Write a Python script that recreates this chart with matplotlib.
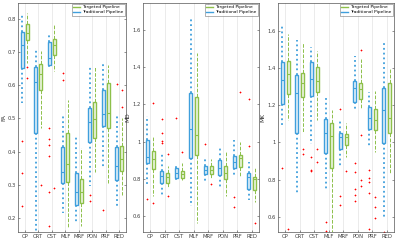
import matplotlib
matplotlib.use('Agg')
import matplotlib.pyplot as plt
from matplotlib.lines import Line2D

regions = ['CP', 'CRT', 'CST', 'MLF', 'MRF', 'PON', 'PRF', 'RED']

# five-number summaries per region: (whisker low, q1, median, q3, whisker high)
fa_trad = [(0.547, 0.652, 0.720, 0.761, 0.816), (0.160, 0.456, 0.611, 0.655, 0.708),
           (0.649, 0.661, 0.682, 0.731, 0.758), (0.215, 0.305, 0.338, 0.415, 0.515),
           (0.185, 0.240, 0.278, 0.335, 0.443), (0.297, 0.428, 0.488, 0.532, 0.660),
           (0.355, 0.477, 0.512, 0.587, 0.663), (0.230, 0.315, 0.358, 0.413, 0.515)]
fa_targ = [(0.667, 0.736, 0.756, 0.786, 0.818), (0.470, 0.587, 0.635, 0.664, 0.703),
           (0.642, 0.692, 0.720, 0.740, 0.786), (0.170, 0.308, 0.362, 0.455, 0.555),
           (0.175, 0.245, 0.280, 0.317, 0.410), (0.340, 0.440, 0.497, 0.550, 0.655),
           (0.305, 0.470, 0.518, 0.607, 0.660), (0.270, 0.343, 0.378, 0.417, 0.500)]
fa_trad_out = [[0.433, 0.335, 0.237], [], [0.471, 0.438, 0.421, 0.388, 0.280, 0.175],
               [0.637, 0.615], [], [0.270, 0.250], [0.223], [0.605]]
fa_targ_out = [[0.655, 0.621], [0.300], [0.292], [], [], [], [], [0.585, 0.535]]

md_trad = [(0.763, 0.887, 0.919, 1.009, 1.138), (0.713, 0.776, 0.817, 0.844, 0.932),
           (0.790, 0.803, 0.833, 0.856, 0.880), (0.654, 0.910, 1.068, 1.260, 1.668),
           (0.776, 0.826, 0.847, 0.869, 0.919), (0.749, 0.820, 0.856, 0.901, 0.978),
           (0.811, 0.856, 0.889, 0.924, 1.009), (0.686, 0.743, 0.811, 0.829, 0.892)]
md_targ = [(0.708, 0.853, 0.905, 0.951, 1.030), (0.749, 0.779, 0.808, 0.829, 0.871),
           (0.794, 0.803, 0.824, 0.844, 0.883), (0.564, 0.928, 1.035, 1.238, 1.478),
           (0.797, 0.826, 0.847, 0.869, 0.905), (0.709, 0.797, 0.829, 0.869, 0.946),
           (0.811, 0.862, 0.914, 0.928, 1.000), (0.673, 0.740, 0.797, 0.811, 0.856)]
md_trad_out = [[0.691], [1.123, 1.044, 1.005, 0.994], [1.128], [], [0.985], [],
               [0.704, 0.650], [1.228, 0.978]]
md_targ_out = [[1.205, 0.672], [0.932, 0.709], [0.946], [], [0.770], [], [1.266], [0.561]]

mk_trad = [(1.084, 1.206, 1.335, 1.430, 1.625), (0.729, 1.053, 1.263, 1.365, 1.553),
           (0.990, 1.250, 1.340, 1.430, 1.514), (0.740, 0.944, 1.052, 1.125, 1.245),
           (0.860, 0.967, 1.027, 1.052, 1.123), (1.168, 1.218, 1.294, 1.331, 1.464),
           (0.976, 1.070, 1.132, 1.191, 1.272), (0.586, 0.998, 1.173, 1.290, 1.532)]
mk_targ = [(1.120, 1.260, 1.370, 1.440, 1.582), (1.052, 1.245, 1.322, 1.374, 1.535),
           (1.120, 1.272, 1.331, 1.406, 1.492), (0.500, 0.863, 1.034, 1.107, 1.173),
           (0.923, 0.985, 1.030, 1.044, 1.105), (1.182, 1.231, 1.285, 1.320, 1.451),
           (0.946, 1.066, 1.123, 1.177, 1.277), (0.833, 1.052, 1.129, 1.317, 1.397)]
mk_trad_out = [[0.860], [], [0.922, 0.854, 0.845], [0.573, 0.525], [1.182, 0.711, 0.663],
               [0.887, 0.842, 0.752, 0.716, 0.684], [0.854, 0.806, 0.788, 0.729, 0.532], [0.520]]
mk_targ_out = [[0.532], [0.962, 0.940], [0.962, 0.896], [], [0.847],
               [1.496, 1.039, 0.800, 0.765], [0.708, 0.650, 0.591], []]

blue = '#3f9fdc'
green = '#8dc04a'


def make_stats(summary, outliers):
    stats = []
    for s, o in zip(summary, outliers):
        stats.append(dict(whislo=s[0], q1=s[1], med=s[2], q3=s[3], whishi=s[4], fliers=o))
    return stats


def draw_group(ax, summary, outliers, pos, col, ls, lw):
    ax.bxp(make_stats(summary, outliers), positions=pos, widths=0.22,
           patch_artist=True, showcaps=False,
           boxprops=dict(facecolor=col, edgecolor=col, linewidth=1.0),
           whiskerprops=dict(color=col, linestyle=ls, linewidth=lw),
           medianprops=dict(color=col, linewidth=0.8),
           flierprops=dict(marker='+', markeredgecolor='red', markersize=2.0,
                           markeredgewidth=0.5, linestyle='none'))


fig = plt.figure(figsize=(4.0, 2.44), dpi=100)
panels = [
    ([0.045, 0.049, 0.27, 0.939], 'FA', fa_trad, fa_trad_out, fa_targ, fa_targ_out,
     (0.158, 0.848), [0.2, 0.3, 0.4, 0.5, 0.6, 0.7, 0.8], ['0.2', '0.3', '0.4', '0.5', '0.6', '0.7', '0.8']),
    ([0.3575, 0.049, 0.29, 0.939], 'MD', md_trad, md_trad_out, md_targ, md_targ_out,
     (0.514, 1.745), [0.6, 0.8, 1.0, 1.2, 1.4, 1.6], ['0.6', '0.8', '1', '1.2', '1.4', '1.6']),
    ([0.695, 0.049, 0.29, 0.939], 'MK', mk_trad, mk_trad_out, mk_targ, mk_targ_out,
     (0.518, 1.75), [0.6, 0.8, 1.0, 1.2, 1.4, 1.6], ['0.6', '0.8', '1', '1.2', '1.4', '1.6']),
]

x = list(range(1, len(regions) + 1))
for rect, name, trad, trad_out, targ, targ_out, ylim, yt, ytl in panels:
    ax = fig.add_axes(rect)
    ax.set_axisbelow(True)
    ax.grid(axis='x', color='#e3e3e3', linewidth=0.5)
    draw_group(ax, trad, trad_out, [i - 0.2 for i in x], blue, ':', 1.3)
    draw_group(ax, targ, targ_out, [i + 0.2 for i in x], green, '--', 0.7)
    for p in ax.patches:
        fc = p.get_facecolor()
        p.set_facecolor((fc[0], fc[1], fc[2], 0.12))
    ax.set_xlim(0.5, 8.5)
    ax.set_ylim(*ylim)
    ax.set_xticks(x)
    ax.set_xticklabels(regions)
    ax.set_yticks(yt)
    ax.set_yticklabels(ytl)
    ax.tick_params(labelsize=3.8, direction='in', length=1.5, width=0.4, right=True, pad=1.5, colors='#404040')
    ax.set_ylabel(name, fontsize=4.2, color='#303030')
    ax.yaxis.set_label_coords(-0.11, 0.5)
    for sp in ax.spines.values():
        sp.set_linewidth(0.5)
        sp.set_color('#555555')
    handles = [Line2D([], [], color=green, lw=1.0), Line2D([], [], color=blue, lw=1.0)]
    leg = ax.legend(handles, ['Targeted Pipeline', 'Traditional Pipeline'], loc='upper right',
                    fontsize=3.2, frameon=True, fancybox=False, borderpad=0.3, labelspacing=0.2,
                    handlelength=1.6, handletextpad=0.4, borderaxespad=0.25)
    leg.get_frame().set_linewidth(0.4)
    leg.get_frame().set_edgecolor('#555555')

fig.savefig('out.png', dpi=100)
